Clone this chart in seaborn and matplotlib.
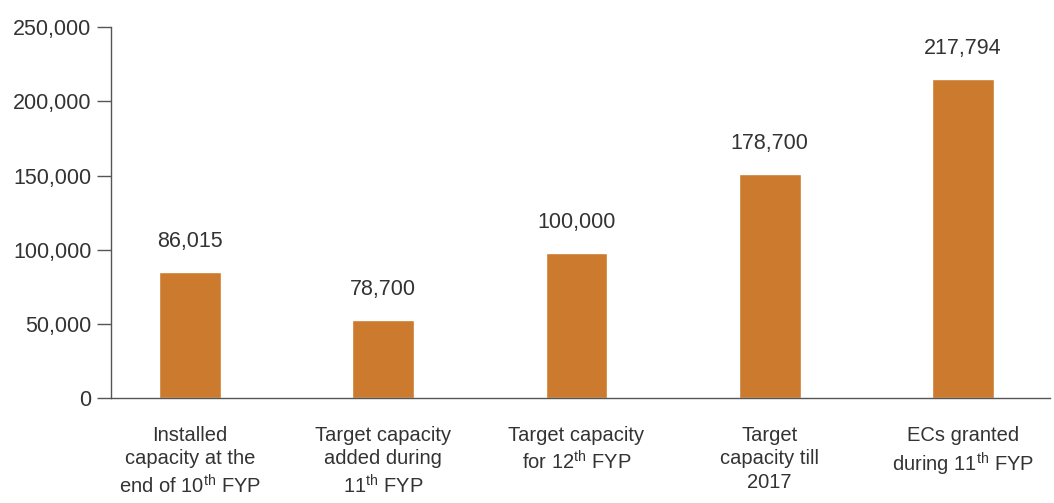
import matplotlib
matplotlib.use("Agg")
import matplotlib.pyplot as plt
import seaborn as sns
import pandas as pd
from matplotlib.ticker import FuncFormatter

categories = [
    "Installed\ncapacity at the\nend of 10$^{\\mathregular{th}}$ FYP",
    "Target capacity\nadded during\n11$^{\\mathregular{th}}$ FYP",
    "Target capacity\nfor 12$^{\\mathregular{th}}$ FYP",
    "Target\ncapacity till\n2017",
    "ECs granted\nduring 11$^{\\mathregular{th}}$ FYP",
]
bar_values = [85000, 52500, 98000, 151000, 215000]
value_labels = ["86,015", "78,700", "100,000", "178,700", "217,794"]
y_ticks = [0, 50000, 100000, 150000, 200000, 250000]

sns.set_theme(style="white")
plt.rcParams["font.family"] = ["Liberation Sans", "DejaVu Sans"]
plt.rcParams["mathtext.fontset"] = "custom"
plt.rcParams["mathtext.rm"] = "Liberation Sans"

text_color = "#333333"
bar_color = "#CC7A2E"

fig = plt.figure(figsize=(10.54, 5.03), dpi=100)
ax = fig.add_axes([0.1053, 0.2087, 0.8907, 0.7373])

df = pd.DataFrame({"cat": categories, "val": bar_values})
sns.barplot(data=df, x="cat", y="val", color=bar_color, saturation=1, width=0.32, ax=ax)

ax.set_xlim(-0.41, 4.45)
ax.set_ylim(0, 250000)
ax.set_yticks(y_ticks)
ax.yaxis.set_major_formatter(FuncFormatter(lambda v, p: f"{int(v):,}"))
ax.set_xlabel("")
ax.set_ylabel("")

for s in ["top", "right"]:
    ax.spines[s].set_visible(False)
for s in ["left", "bottom"]:
    ax.spines[s].set_color("#555555")
    ax.spines[s].set_linewidth(1.0)

ax.tick_params(axis="y", which="both", left=True, length=10, width=1, color="#555555",
               labelsize=15.5, labelcolor=text_color, pad=4, direction="out")
ax.tick_params(axis="x", bottom=False, labelsize=14.5, labelcolor=text_color, pad=14)
for lbl in ax.get_xticklabels():
    lbl.set_linespacing(1.3)

for i, (v, t) in enumerate(zip(bar_values, value_labels)):
    ax.annotate(t, xy=(i, v), xytext=(0, 22), textcoords="offset points",
                ha="center", va="center", fontsize=15.5, color=text_color)

fig.savefig("out.png", dpi=100)
